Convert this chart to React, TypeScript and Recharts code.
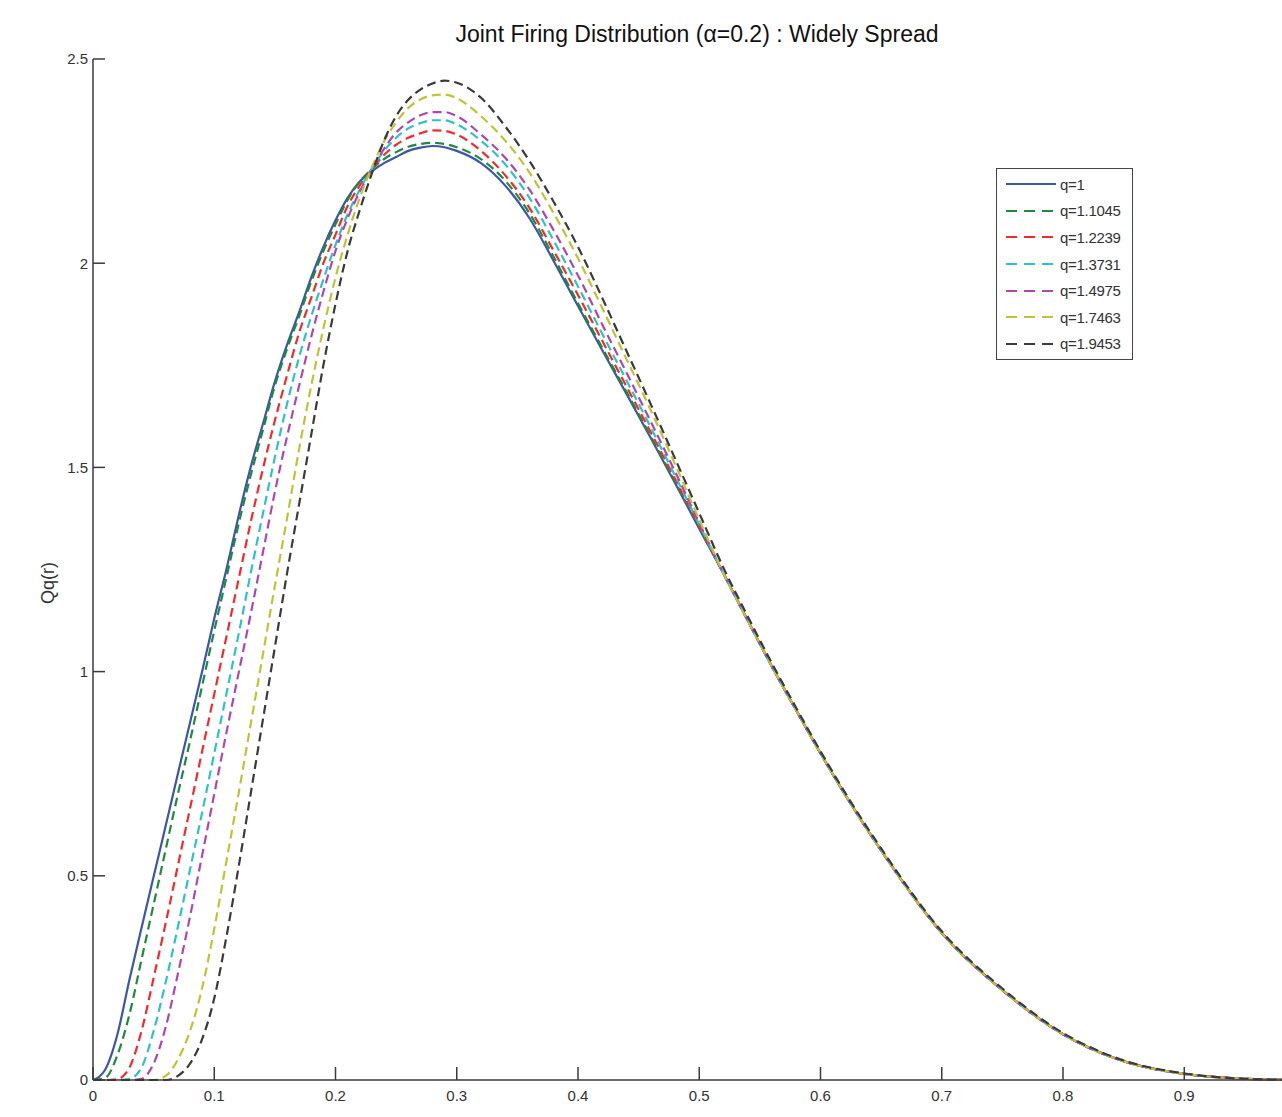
import { LineChart, Line, XAxis, YAxis } from "recharts"

// r values (x axis)
const rValues = [
  0, 0.01, 0.02, 0.03, 0.04, 0.05, 0.06, 0.07, 0.08, 0.09, 0.1, 0.11, 0.12, 0.13, 0.14, 0.15, 0.16, 0.17, 0.18, 0.19,
  0.2, 0.21, 0.22, 0.23, 0.24, 0.25, 0.26, 0.27, 0.28, 0.29, 0.3, 0.32, 0.34, 0.36, 0.38, 0.4, 0.42, 0.44, 0.46, 0.48,
  0.5, 0.52, 0.54, 0.56, 0.58, 0.6, 0.62, 0.65, 0.7, 0.75, 0.8, 0.85, 0.9, 0.95, 0.98, 1.0,
]

// all curves merge past r = 0.5
const tail = [1.24, 1.125, 1.012, 0.905, 0.8, 0.7, 0.562, 0.36, 0.22, 0.112, 0.046, 0.015, 0.003, 0.0005, 0]
const tailK = [1.254, 1.135, 1.02, 0.911, 0.805, 0.705, 0.567, 0.364, 0.224, 0.115, 0.048, 0.016, 0.003, 0.0005, 0]

const q1 = [
  0, 0.025, 0.11, 0.245, 0.372, 0.498, 0.623, 0.75, 0.875, 1.0, 1.13, 1.25, 1.38, 1.5, 1.605, 1.71, 1.8, 1.88, 1.965,
  2.04, 2.105, 2.16, 2.2, 2.225, 2.245, 2.26, 2.275, 2.283, 2.287, 2.284, 2.275, 2.245, 2.19, 2.11, 2.005, 1.895, 1.787,
  1.68, 1.572, 1.462, 1.35, ...tail,
]
const q11045 = [
  0, 0.005, 0.06, 0.16, 0.295, 0.43, 0.565, 0.7, 0.83, 0.965, 1.1, 1.23, 1.36, 1.48, 1.59, 1.7, 1.79, 1.87, 1.955, 2.03,
  2.095, 2.155, 2.2, 2.23, 2.255, 2.272, 2.285, 2.292, 2.295, 2.292, 2.284, 2.255, 2.202, 2.122, 2.015, 1.902, 1.793,
  1.685, 1.576, 1.465, 1.352, ...tail,
]
const q12239 = [
  0, 0, 0.002, 0.03, 0.12, 0.25, 0.385, 0.525, 0.665, 0.805, 0.945, 1.085, 1.225, 1.365, 1.495, 1.615, 1.725, 1.83,
  1.915, 2.0, 2.07, 2.14, 2.19, 2.23, 2.265, 2.29, 2.307, 2.318, 2.325, 2.324, 2.315, 2.275, 2.215, 2.135, 2.03, 1.922,
  1.81, 1.698, 1.586, 1.472, 1.356, ...tail,
]
const q13731 = [
  0, 0, 0, 0.003, 0.03, 0.12, 0.24, 0.375, 0.515, 0.655, 0.8, 0.945, 1.09, 1.24, 1.385, 1.525, 1.655, 1.77, 1.87, 1.96,
  2.045, 2.12, 2.18, 2.232, 2.275, 2.307, 2.33, 2.343, 2.35, 2.35, 2.34, 2.3, 2.242, 2.16, 2.055, 1.943, 1.827, 1.713,
  1.598, 1.48, 1.36, ...tail,
]
const q14975 = [
  0, 0, 0, 0, 0.003, 0.04, 0.13, 0.26, 0.4, 0.55, 0.7, 0.85, 0.995, 1.14, 1.29, 1.44, 1.575, 1.7, 1.82, 1.93, 2.03, 2.11,
  2.175, 2.23, 2.28, 2.32, 2.345, 2.362, 2.37, 2.37, 2.36, 2.315, 2.258, 2.18, 2.08, 1.97, 1.85, 1.732, 1.612, 1.49,
  1.364, ...tail,
]
const q17463 = [
  0, 0, 0, 0, 0, 0, 0.01, 0.05, 0.12, 0.225, 0.37, 0.535, 0.7, 0.87, 1.04, 1.21, 1.375, 1.545, 1.7, 1.84, 1.965, 2.07,
  2.16, 2.235, 2.298, 2.345, 2.38, 2.401, 2.411, 2.413, 2.404, 2.36, 2.3, 2.222, 2.122, 2.012, 1.89, 1.765, 1.64, 1.508,
  1.372, ...tail,
]
const q19453 = [
  0, 0, 0, 0, 0, 0, 0, 0.01, 0.04, 0.1, 0.2, 0.35, 0.52, 0.7, 0.88, 1.06, 1.24, 1.41, 1.58, 1.75, 1.9, 2.03, 2.13, 2.22,
  2.3, 2.36, 2.4, 2.425, 2.44, 2.447, 2.442, 2.405, 2.335, 2.25, 2.15, 2.04, 1.915, 1.785, 1.655, 1.522, 1.388, ...tailK,
]

const seriesNames = ["q=1", "q=1.1045", "q=1.2239", "q=1.3731", "q=1.4975", "q=1.7463", "q=1.9453"]
const seriesValues = [q1, q11045, q12239, q13731, q14975, q17463, q19453]
const seriesColors = ["#3c56a8", "#1e8a3c", "#f22a2a", "#2cc3c8", "#ae46ae", "#c2c236", "#3a3a3a"]

const xTicks = [0, 0.1, 0.2, 0.3, 0.4, 0.5, 0.6, 0.7, 0.8, 0.9]
const topTicks = [0, 0.1, 0.2, 0.3, 0.4, 0.5, 0.6, 0.7, 0.8, 0.9, 1]
const yTicks = [0, 0.5, 1, 1.5, 2, 2.5]

const data = rValues.map((r, i) => {
  const row: Record<string, number> = { r }
  seriesNames.forEach((name, s) => {
    row[name] = seriesValues[s][i]
  })
  return row
})

const font = "'Liberation Sans', Arial, sans-serif"
const axisColor = "#3a3a3a"

function LegendBox() {
  return (
    <div
      style={{
        position: "absolute",
        left: 996,
        top: 168,
        width: 137,
        boxSizing: "border-box",
        border: "1.5px solid #444",
        background: "#fff",
        padding: "2px 0 2px 8px",
        fontFamily: font,
        fontSize: 15,
        color: "#333",
      }}
    >
      {seriesNames.map((name, i) => (
        <div key={name} style={{ display: "flex", alignItems: "center", height: 26.6 }}>
          <svg width={52} height={10} style={{ marginRight: 3 }}>
            <line
              x1={1}
              y1={5}
              x2={51}
              y2={5}
              stroke={seriesColors[i]}
              strokeWidth={2.2}
              strokeDasharray={i === 0 ? undefined : "11 7"}
            />
          </svg>
          <span style={{ letterSpacing: -0.3 }}>{name}</span>
        </div>
      ))}
    </div>
  )
}

export default function App() {
  return (
    <div
      style={{
        position: "absolute",
        left: 0,
        top: 0,
        width: 1282,
        height: 1117,
        overflow: "hidden",
        background: "#fff",
      }}
    >
      <LineChart
        width={1320}
        height={1117}
        data={data}
        margin={{ top: 59, right: 14.5, bottom: 7, left: 33 }}
        style={{ position: "absolute", left: 0, top: 0 }}
      >
        <XAxis
          dataKey="r"
          type="number"
          domain={[0, 1]}
          ticks={xTicks}
          tickFormatter={(v: number) => String(v)}
          height={30}
          stroke={axisColor}
          strokeWidth={1.5}
          tickSize={-13}
          tickMargin={23}
          tick={{ fontFamily: font, fontSize: 15, fill: "#333" }}
        />
        <XAxis
          xAxisId="top"
          orientation="top"
          dataKey="r"
          type="number"
          domain={[0, 1]}
          ticks={topTicks}
          height={0}
          stroke={axisColor}
          strokeWidth={1.5}
          tickSize={-13}
          tick={false}
        />
        <YAxis
          type="number"
          domain={[0, 2.5]}
          ticks={yTicks}
          width={60}
          stroke={axisColor}
          strokeWidth={1.5}
          tickSize={-12}
          tickMargin={17}
          tick={{ fontFamily: font, fontSize: 15, fill: "#333" }}
        />
        {seriesNames.map((name, i) => (
          <Line
            key={name}
            type="monotone"
            dataKey={name}
            stroke={seriesColors[i]}
            strokeWidth={2.2}
            strokeDasharray={i === 0 ? undefined : "9 5"}
            dot={false}
            activeDot={false}
            isAnimationActive={false}
          />
        ))}
      </LineChart>
      <div
        style={{
          position: "absolute",
          left: 697,
          top: 21,
          transform: "translateX(-50%)",
          whiteSpace: "nowrap",
          fontFamily: font,
          fontSize: 23,
          color: "#111",
          letterSpacing: 0,
        }}
      >
        Joint Firing Distribution (α=0.2) : Widely Spread
      </div>
      <div
        style={{
          position: "absolute",
          left: 48,
          top: 583,
          transform: "translate(-50%, -50%) rotate(-90deg)",
          whiteSpace: "nowrap",
          fontFamily: font,
          fontSize: 18,
          color: "#333",
        }}
      >
        Qq(r)
      </div>
      <LegendBox />
    </div>
  )
}
